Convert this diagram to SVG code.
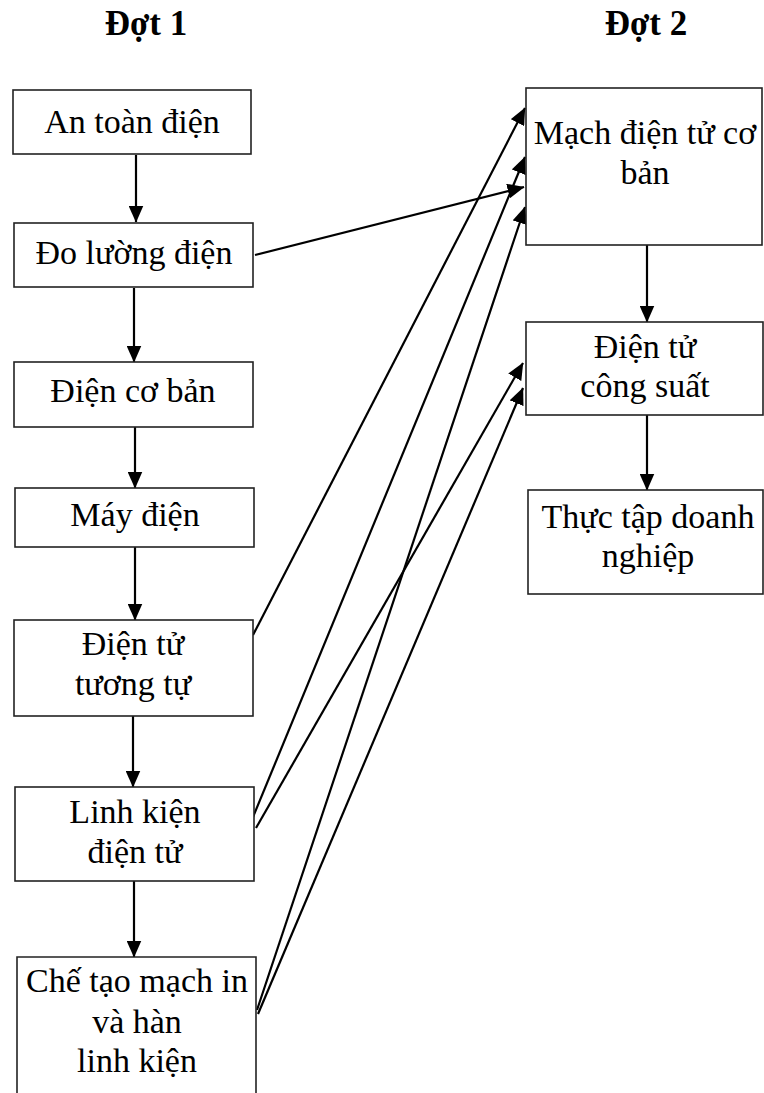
<svg xmlns="http://www.w3.org/2000/svg" width="764" height="1093" viewBox="0 0 764 1093">
<style>
.box{fill:#fff;stroke:#222;stroke-width:1.6}
.t{font-family:"Liberation Serif","Times New Roman",serif;font-size:34px;fill:#000;text-anchor:middle}
.h{font-family:"Liberation Serif","Times New Roman",serif;font-size:35px;font-weight:bold;fill:#000;text-anchor:middle}
.c{stroke:#000;stroke-width:2.2;fill:none;marker-end:url(#ah)}
</style>
<defs>
<marker id="ah" markerUnits="userSpaceOnUse" markerWidth="17" markerHeight="15" refX="16.5" refY="7.5" orient="auto">
<path d="M0,0 L17,7.5 L0,15 z" fill="#000"/>
</marker>
</defs>
<rect width="764" height="1093" fill="#fff"/>
<text class="h" x="146" y="35">Đợt 1</text>
<text class="h" x="646" y="35">Đợt 2</text>
<g id="connectors">
<line class="c" x1="136" y1="155" x2="136" y2="222"/>
<line class="c" x1="134" y1="288" x2="134" y2="362"/>
<line class="c" x1="135" y1="427" x2="135" y2="488"/>
<line class="c" x1="135" y1="547" x2="135" y2="620"/>
<line class="c" x1="133" y1="716" x2="133" y2="787"/>
<line class="c" x1="134" y1="881" x2="134" y2="957"/>
<line class="c" x1="647" y1="245" x2="647" y2="322"/>
<line class="c" x1="647" y1="415" x2="647" y2="490"/>
<line class="c" x1="255" y1="255" x2="524" y2="187"/>
<line class="c" x1="253" y1="635" x2="525" y2="108"/>
<line class="c" x1="251" y1="822" x2="525" y2="157"/>
<line class="c" x1="256" y1="828" x2="523" y2="363"/>
<line class="c" x1="257" y1="1010" x2="525" y2="207"/>
<line class="c" x1="258" y1="1014" x2="523" y2="388"/>
</g>
<g id="n1"><rect class="box" x="13" y="90" width="238" height="64"/><text class="t" x="132" y="133">An toàn điện</text></g>
<g id="n2"><rect class="box" x="14" y="223" width="239" height="64"/><text class="t" x="134" y="264">Đo lường điện</text></g>
<g id="n3"><rect class="box" x="14" y="362" width="239" height="65"/><text class="t" x="133" y="402">Điện cơ bản</text></g>
<g id="n4"><rect class="box" x="15" y="488" width="239" height="59"/><text class="t" x="135" y="526">Máy điện</text></g>
<g id="n5"><rect class="box" x="14" y="620" width="239" height="96"/><text class="t" x="133" y="655">Điện tử</text><text class="t" x="133" y="695">tương tự</text></g>
<g id="n6"><rect class="box" x="15" y="787" width="239" height="94"/><text class="t" x="135" y="823">Linh kiện</text><text class="t" x="135" y="863">điện tử</text></g>
<g id="n7"><path class="box" d="M17,1093 V957 H256 V1093"/><text class="t" x="137" y="992">Chế tạo mạch in</text><text class="t" x="137" y="1033">và hàn</text><text class="t" x="137" y="1072">linh kiện</text></g>
<g id="n8"><rect class="box" x="526" y="88" width="236" height="157"/><text class="t" x="645" y="144">Mạch điện tử cơ</text><text class="t" x="645" y="184">bản</text></g>
<g id="n9"><rect class="box" x="526" y="322" width="237" height="93"/><text class="t" x="645" y="358">Điện tử</text><text class="t" x="645" y="397">công suất</text></g>
<g id="n10"><rect class="box" x="528" y="490" width="235" height="104"/><text class="t" x="648" y="528">Thực tập doanh</text><text class="t" x="648" y="567">nghiệp</text></g>
</svg>
